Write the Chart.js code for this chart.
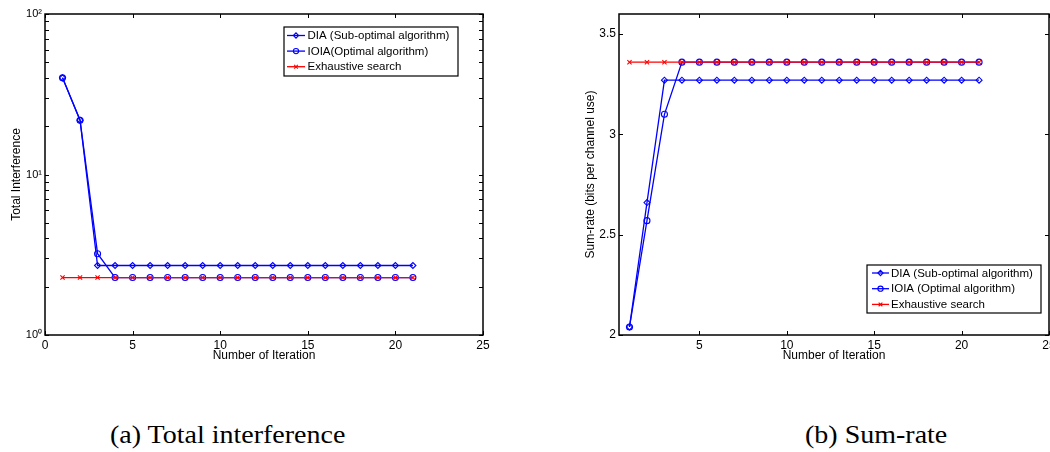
<!DOCTYPE html>
<html>
<head>
<meta charset="utf-8">
<script src="https://cdn.jsdelivr.net/npm/chart.js@4/dist/chart.umd.min.js"></script>
<style>
html,body{margin:0;padding:0;width:1050px;height:452px;overflow:hidden;background:#fff;}
canvas{position:absolute;top:0;}
#c1{left:0;}
#c2{left:540px;}
.cap{position:absolute;top:422px;font-family:"Liberation Serif","Times New Roman",serif;font-size:25px;line-height:25px;color:#000;white-space:nowrap;transform-origin:left top;transform:scaleX(1.12);}
</style>
</head>
<body>
<canvas id="c1" width="500" height="370"></canvas>
<canvas id="c2" width="530" height="370"></canvas>
<div class="cap" style="left:110px">(a) Total interference</div>
<div class="cap" style="left:805px">(b) Sum-rate</div>
<script>
// ---------- data ----------
const iterations = [1,2,3,4,5,6,7,8,9,10,11,12,13,14,15,16,17,18,19,20,21];

const seriesNamesA = ['DIA (Sub-optimal algorithm)', 'IOIA(Optimal algorithm)', 'Exhaustive search'];
const seriesNamesB = ['DIA (Sub-optimal algorithm)', 'IOIA (Optimal algorithm)', 'Exhaustive search'];

// (a) Total interference
const diaInterference  = [40, 21.8, 2.71, 2.71, 2.71, 2.71, 2.71, 2.71, 2.71, 2.71, 2.71, 2.71, 2.71, 2.71, 2.71, 2.71, 2.71, 2.71, 2.71, 2.71, 2.71];
const ioiaInterference = [40, 21.8, 3.21, 2.28, 2.28, 2.28, 2.28, 2.28, 2.28, 2.28, 2.28, 2.28, 2.28, 2.28, 2.28, 2.28, 2.28, 2.28, 2.28, 2.28, 2.28];
const exhInterference  = [2.28, 2.28, 2.28, 2.28, 2.28, 2.28, 2.28, 2.28, 2.28, 2.28, 2.28, 2.28, 2.28, 2.28, 2.28, 2.28, 2.28, 2.28, 2.28, 2.28, 2.28];

// (b) Sum-rate
const diaSumRate  = [2.04, 2.66, 3.27, 3.27, 3.27, 3.27, 3.27, 3.27, 3.27, 3.27, 3.27, 3.27, 3.27, 3.27, 3.27, 3.27, 3.27, 3.27, 3.27, 3.27, 3.27];
const ioiaSumRate = [2.04, 2.57, 3.10, 3.36, 3.36, 3.36, 3.36, 3.36, 3.36, 3.36, 3.36, 3.36, 3.36, 3.36, 3.36, 3.36, 3.36, 3.36, 3.36, 3.36, 3.36];
const exhSumRate  = [3.36, 3.36, 3.36, 3.36, 3.36, 3.36, 3.36, 3.36, 3.36, 3.36, 3.36, 3.36, 3.36, 3.36, 3.36, 3.36, 3.36, 3.36, 3.36, 3.36, 3.36];

// ticks
const xTicksA = [0, 5, 10, 15, 20, 25];
const xTicksB = [5, 10, 15, 20, 25];
const yTicksA = [1, 10, 100];
const yTickLabelsA = ['10\u2070', '10\u00B9', '10\u00B2'];
const yTicksB = [2, 2.5, 3, 3.5];
const yTickLabelsB = ['2', '2.5', '3', '3.5'];

// ---------- styling ----------
const FONT = '"Liberation Sans", Arial, Helvetica, sans-serif';
const BLUE = 'rgb(0,0,255)';
const RED = 'rgb(255,0,0)';
const LW = 1.3;

function pts(vals) { return iterations.map((x, i) => ({x: x, y: vals[i]})); }

function makeDatasets(names, dia, ioia, exh) {
  const base = {borderWidth: LW, pointBorderWidth: 1.1, pointBackgroundColor: 'rgba(255,255,255,0)', backgroundColor: 'rgba(255,255,255,0)', fill: false, tension: 0};
  return [
    Object.assign({}, base, {label: names[0], data: pts(dia), borderColor: BLUE, pointBorderColor: BLUE, pointStyle: 'rectRot', pointRadius: 3, order: 2}),
    Object.assign({}, base, {label: names[1], data: pts(ioia), borderColor: BLUE, pointBorderColor: BLUE, pointStyle: 'circle', pointRadius: 3, order: 1}),
    Object.assign({}, base, {label: names[2], data: pts(exh), borderColor: RED, pointBorderColor: RED, pointStyle: 'crossRot', pointRadius: 3, order: 0})
  ];
}

function drawMarker(ctx, style, x, y, r, color) {
  ctx.save();
  ctx.strokeStyle = color; ctx.lineWidth = 1.1;
  ctx.beginPath();
  if (style === 'rectRot') {
    ctx.moveTo(x - r, y); ctx.lineTo(x, y - r); ctx.lineTo(x + r, y); ctx.lineTo(x, y + r); ctx.closePath();
  } else if (style === 'circle') {
    ctx.arc(x, y, r, 0, Math.PI * 2);
  } else {
    const d = r * Math.SQRT1_2;
    ctx.moveTo(x - d, y - d); ctx.lineTo(x + d, y + d);
    ctx.moveTo(x + d, y - d); ctx.lineTo(x - d, y + d);
  }
  ctx.stroke();
  ctx.restore();
}

const matlabAxes = {
  id: 'matlabAxes',
  afterDraw(chart, args, opts) {
    const {ctx, chartArea: a, scales} = chart;
    const xs = scales.x, ys = scales.y;
    const tl = 4;
    ctx.save();
    ctx.strokeStyle = '#000';
    ctx.lineWidth = 1;
    ctx.beginPath();
    xs.ticks.forEach(t => {
      const px = Math.round(xs.getPixelForValue(t.value)) + 0.5;
      ctx.moveTo(px, a.bottom); ctx.lineTo(px, a.bottom - tl);
      ctx.moveTo(px, a.top); ctx.lineTo(px, a.top + tl);
    });
    let yv = ys.ticks.map(t => t.value);
    if (ys.type === 'logarithmic') {
      for (let d = ys.min; d < ys.max; d *= 10) {
        for (let m = 2; m <= 9; m++) yv.push(m * d);
      }
    }
    yv.forEach(v => {
      const py = Math.round(ys.getPixelForValue(v)) + 0.5;
      ctx.moveTo(a.left, py); ctx.lineTo(a.left + tl, py);
      ctx.moveTo(a.right, py); ctx.lineTo(a.right - tl, py);
    });
    ctx.stroke();
    ctx.lineWidth = 1.5;
    ctx.strokeRect(a.left, a.top, a.right - a.left, a.bottom - a.top);

    // legend box
    const L = opts.legend;
    if (L) {
      const bx = L.anchorRight ? a.right - L.dx - L.w : a.left + L.dx;
      const by = L.anchorBottom ? a.bottom - L.dy - L.h : a.top + L.dy;
      ctx.fillStyle = '#fff';
      ctx.fillRect(bx, by, L.w, L.h);
      ctx.lineWidth = 1.2;
      ctx.strokeStyle = '#000';
      ctx.strokeRect(bx, by, L.w, L.h);
      ctx.font = '11.5px ' + FONT;
      ctx.textBaseline = 'middle';
      ctx.textAlign = 'left';
      chart.data.datasets.forEach((ds, i) => {
        const ry = by + L.row0 + i * L.rowGap;
        ctx.strokeStyle = ds.borderColor;
        ctx.lineWidth = LW;
        ctx.beginPath();
        ctx.moveTo(bx + L.lx0, ry); ctx.lineTo(bx + L.lx1, ry);
        ctx.stroke();
        drawMarker(ctx, ds.pointStyle, bx + (L.lx0 + L.lx1) / 2, ry, 2.6, ds.borderColor);
        ctx.fillStyle = '#000';
        ctx.fillText(ds.label, bx + L.tx, ry + 0.5);
      });
    }
    ctx.restore();
  }
};

function axisCommon(extra) {
  return Object.assign({
    grid: {display: false, drawTicks: false},
    border: {display: false},
  }, extra);
}

// ---------- chart (a) ----------
new Chart(document.getElementById('c1'), {
  type: 'line',
  data: {datasets: makeDatasets(seriesNamesA, diaInterference, ioiaInterference, exhInterference)},
  options: {
    responsive: false,
    animation: false,
    events: [],
    layout: {padding: {left: 0, top: 14, right: 17, bottom: 0}},
    plugins: {
      colors: {enabled: false},
      legend: {display: false},
      tooltip: {enabled: false},
      matlabAxes: {legend: {anchorRight: true, dx: 25, dy: 13, w: 174, h: 49, row0: 8.5, rowGap: 15.6, lx0: 3, lx1: 21, tx: 23.5}}
    },
    scales: {
      x: axisCommon({
        type: 'linear', min: 0, max: 25,
        afterBuildTicks: s => { s.ticks = xTicksA.map(v => ({value: v})); },
        afterFit: s => { s.height = 35; },
        ticks: {padding: 3, color: '#000', font: {size: 12, family: FONT}, maxRotation: 0, autoSkip: false, callback: v => String(v)},
        title: {display: true, text: 'Number of Iteration', color: '#000', font: {size: 12, family: FONT}, padding: {top: 0, bottom: 7}}
      }),
      y: axisCommon({
        type: 'logarithmic', min: 1, max: 100,
        afterBuildTicks: s => { s.ticks = yTicksA.map(v => ({value: v})); },
        afterFit: s => { s.width = 45; },
        ticks: {padding: 3, color: '#000', font: {size: 11, family: FONT}, autoSkip: false, callback: (v, i) => yTickLabelsA[i]},
        title: {display: true, text: 'Total Interference', color: '#000', font: {size: 12, family: FONT}, padding: {top: 9, bottom: 0}}
      })
    }
  },
  plugins: [matlabAxes]
});

// ---------- chart (b) ----------
new Chart(document.getElementById('c2'), {
  type: 'line',
  data: {datasets: makeDatasets(seriesNamesB, diaSumRate, ioiaSumRate, exhSumRate)},
  options: {
    responsive: false,
    animation: false,
    events: [],
    layout: {padding: {left: 0, top: 14, right: 21, bottom: 0}},
    plugins: {
      colors: {enabled: false},
      legend: {display: false},
      tooltip: {enabled: false},
      matlabAxes: {legend: {anchorRight: true, anchorBottom: true, dx: 8, dy: 22, w: 174, h: 48, row0: 8, rowGap: 15.7, lx0: 5, lx1: 22, tx: 24}}
    },
    scales: {
      x: axisCommon({
        type: 'linear', min: 0.4, max: 25,
        afterBuildTicks: s => { s.ticks = xTicksB.map(v => ({value: v})); },
        afterFit: s => { s.height = 35; },
        ticks: {padding: 3, color: '#000', font: {size: 12, family: FONT}, maxRotation: 0, autoSkip: false, callback: v => String(v)},
        title: {display: true, text: 'Number of Iteration', color: '#000', font: {size: 12, family: FONT}, padding: {top: 0, bottom: 7}}
      }),
      y: axisCommon({
        type: 'linear', min: 2, max: 3.6,
        afterBuildTicks: s => { s.ticks = yTicksB.map(v => ({value: v})); },
        afterFit: s => { s.width = 79; },
        ticks: {padding: 3, color: '#000', font: {size: 12, family: FONT}, autoSkip: false, callback: (v, i) => yTickLabelsB[i]},
        title: {display: true, text: 'Sum-rate (bits per channel use)', color: '#000', font: {size: 12, family: FONT}, padding: {top: 43, bottom: 0}}
      })
    }
  },
  plugins: [matlabAxes]
});
</script>
</body>
</html>
